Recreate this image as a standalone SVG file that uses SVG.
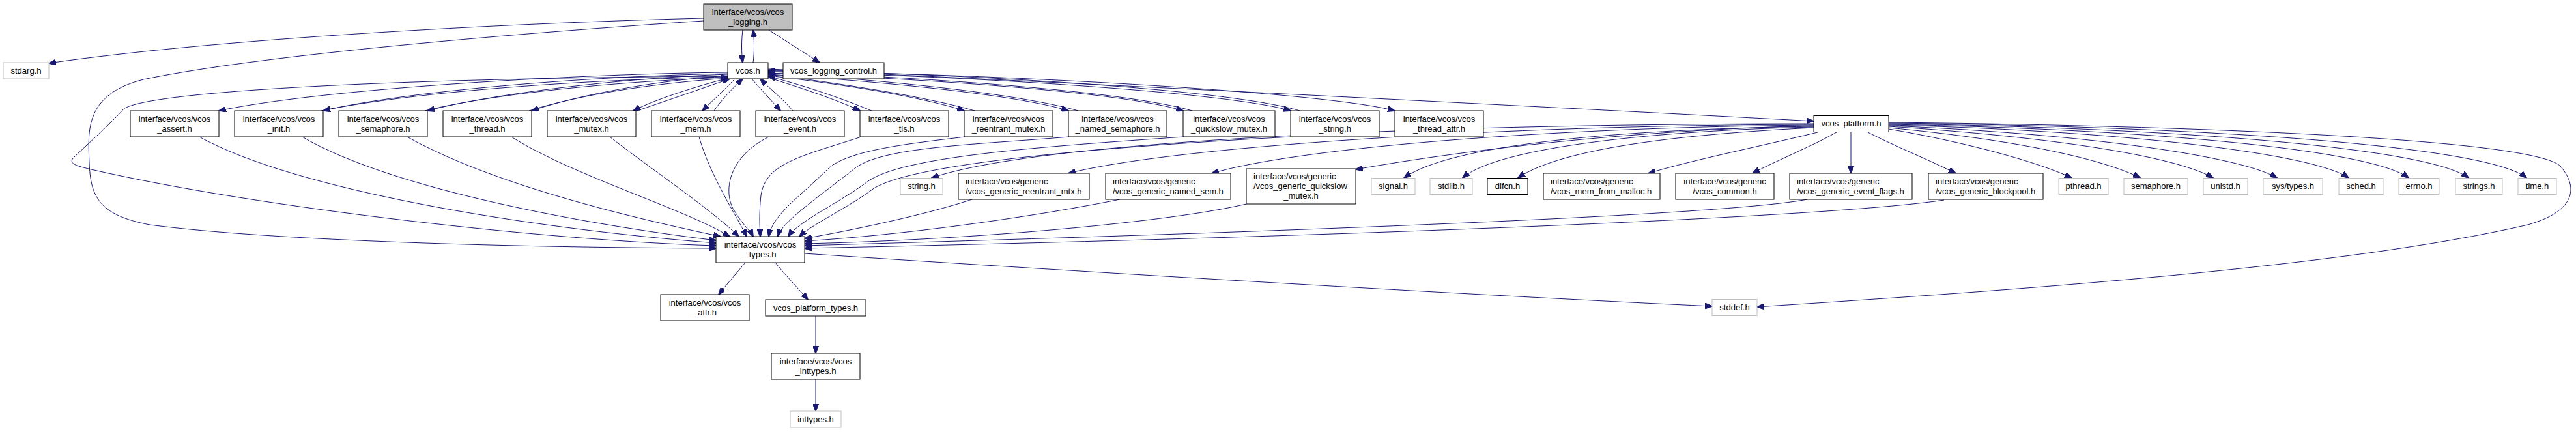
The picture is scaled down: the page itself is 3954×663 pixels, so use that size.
<svg xmlns="http://www.w3.org/2000/svg" width="3954" height="663" viewBox="0 0 3954 663">
<defs>
<marker id="a" markerWidth="12" markerHeight="9" refX="11" refY="4.5" orient="auto" markerUnits="userSpaceOnUse">
<path d="M0,0 L12,4.5 L0,9 z" fill="#191970" stroke="#191970" stroke-width="1"/>
</marker>
</defs>
<style>
rect{fill:#fff;stroke:#000;stroke-width:1}
.g rect{stroke:#bfbfbf}
.r rect{fill:#bfbfbf}
text{font-family:"Liberation Sans",Arial,sans-serif;font-size:13px;fill:#000}
.c{text-anchor:middle}
#edges path{fill:none;stroke:#191970;stroke-width:1;marker-end:url(#a)}
</style>
<rect x="0" y="0" width="3954" height="663" style="fill:#fff;stroke:none"/>
<g id="edges">
<path d="M1080,28 C760,36 330,60 75,97"/>
<path d="M1140,46 C1138,62 1138,80 1140,96"/>
<path d="M1156,96 C1158,80 1158,62 1156,46"/>
<path d="M1180,46 L1258,96"/>
<path d="M1080,32 C880,45 420,80 220,122 C130,145 135,200 137,250 C139,300 150,330 230,345 C420,370 800,380 1099,381"/>
<path d="M1117,117 C600,120 230,140 190,167 C170,190 130,225 112,243 C105,252 120,255 140,260 C400,320 850,370 1099,377"/>
<path d="M1117,111 C900,113 500,135 336,170"/>
<path d="M1117,113 C900,117 620,140 496,170"/>
<path d="M493,170 C640,140 900,122 1117,118"/>
<path d="M1117,114 C950,120 750,145 656,170"/>
<path d="M652,170 C760,143 960,124 1117,119"/>
<path d="M1117,116 C1000,124 880,148 816,170"/>
<path d="M812,170 C890,145 1010,127 1118,120"/>
<path d="M1117,120 C1060,135 1000,155 972,170"/>
<path d="M978,170 C1030,152 1080,135 1120,121"/>
<path d="M1128,121 C1110,140 1090,158 1078,170"/>
<path d="M1096,170 C1110,150 1125,135 1140,121"/>
<path d="M1154,121 C1170,140 1185,155 1198,170"/>
<path d="M1217,170 C1200,150 1180,135 1167,121"/>
<path d="M1179,119 C1230,135 1290,155 1320,170"/>
<path d="M1338,170 C1290,150 1230,130 1179,117"/>
<path d="M1179,116 C1300,130 1420,150 1480,170"/>
<path d="M1496,170 C1420,148 1290,128 1179,114"/>
<path d="M1179,114 C1350,125 1560,145 1640,170"/>
<path d="M1655,170 C1560,143 1350,122 1179,112"/>
<path d="M1179,112 C1400,120 1720,140 1816,170"/>
<path d="M1830,170 C1720,138 1400,118 1179,110"/>
<path d="M1179,110 C1450,115 1880,140 1981,170"/>
<path d="M1995,170 C1880,135 1450,112 1179,108"/>
<path d="M1179,109 C1500,112 2030,140 2141,170"/>
<path d="M1179,106 C1400,115 2400,165 2784,186"/>
<path d="M306,210 C450,290 800,350 1099,373"/>
<path d="M464,210 C600,290 900,345 1099,369"/>
<path d="M625,210 C750,280 950,330 1106,363"/>
<path d="M785,210 C880,270 1050,320 1120,363"/>
<path d="M936,210 C1000,260 1090,320 1134,363"/>
<path d="M1073,210 C1090,270 1130,330 1146,363"/>
<path d="M1180,210 C1120,240 1110,290 1125,320 C1140,345 1152,355 1156,363"/>
<path d="M1322,210 C1230,240 1175,250 1168,300 C1165,330 1166,345 1167,363"/>
<path d="M1481,210 C1400,220 1300,230 1270,260 C1230,300 1185,330 1180,363"/>
<path d="M1641,210 C1500,222 1350,225 1310,260 C1260,300 1200,340 1194,363"/>
<path d="M1817,210 C1600,225 1380,240 1330,280 C1290,310 1225,340 1210,363"/>
<path d="M1982,210 C1700,225 1400,250 1340,290 C1300,320 1245,345 1227,363"/>
<path d="M1492,306 C1420,330 1300,355 1235,366"/>
<path d="M1719,306 C1600,330 1400,360 1235,370"/>
<path d="M1913,313 C1800,340 1500,368 1235,374"/>
<path d="M2774,306 C2650,330 2000,355 1235,377"/>
<path d="M2984,307 C2800,335 2000,365 1235,381"/>
<path d="M1235,389 C1700,420 2300,455 2628,470"/>
<path d="M1144,403 C1130,420 1115,437 1103,452"/>
<path d="M1190,403 C1205,422 1225,442 1240,460"/>
<path d="M1252,485 L1252,542"/>
<path d="M1252,582 L1252,631"/>
<path d="M2899,198 C3000,215 3120,245 3180,273"/>
<path d="M2899,196 C3100,215 3230,245 3285,273"/>
<path d="M2899,194 C3150,210 3340,240 3397,273"/>
<path d="M2899,193 C3200,205 3440,240 3495,273"/>
<path d="M2899,192 C3250,200 3550,235 3605,273"/>
<path d="M2899,191 C3300,198 3640,230 3697,273"/>
<path d="M2899,190 C3350,196 3730,228 3789,273"/>
<path d="M2899,189 C3400,194 3820,225 3878,273"/>
<path d="M2899,188 C3400,193 3890,215 3930,255 C3960,290 3950,325 3880,345 C3600,410 3100,445 2697,471"/>
<path d="M2819,203 C2780,225 2730,245 2690,266"/>
<path d="M2841,203 L2841,266"/>
<path d="M2867,203 C2910,225 2960,245 3002,266"/>
<path d="M2790,203 C2700,225 2600,245 2530,266"/>
<path d="M2784,196 C2600,205 2400,225 2330,273"/>
<path d="M2784,195 C2550,200 2300,225 2245,273"/>
<path d="M2784,194 C2500,198 2230,220 2155,273"/>
<path d="M2784,193 C2500,200 2250,230 2081,260"/>
<path d="M2784,192 C2400,195 2000,225 1860,266"/>
<path d="M2784,191 C2300,192 1800,225 1640,266"/>
<path d="M2784,190 C2200,190 1600,215 1430,273"/>
</g>
<g id="n_root" class="r"><rect x="1080" y="6" width="136" height="40"/><text class="c" x="1148" y="22.5">interface/vcos/vcos</text><text class="c" x="1148" y="37.5">_logging.h</text></g>
<g id="n_stdarg" class="g"><rect x="5" y="96" width="70" height="25"/><text class="c" x="40" y="112.5">stdarg.h</text></g>
<g id="n_vcos"><rect x="1117" y="96" width="62" height="25"/><text class="c" x="1148" y="112.5">vcos.h</text></g>
<g id="n_logging_control"><rect x="1202" y="96" width="155" height="25"/><text class="c" x="1279.5" y="112.5">vcos_logging_control.h</text></g>
<g id="n_assert"><rect x="200" y="170" width="136" height="40"/><text class="c" x="268" y="186.5">interface/vcos/vcos</text><text class="c" x="268" y="201.5">_assert.h</text></g>
<g id="n_init"><rect x="360" y="170" width="136" height="40"/><text class="c" x="428" y="186.5">interface/vcos/vcos</text><text class="c" x="428" y="201.5">_init.h</text></g>
<g id="n_semaphore"><rect x="520" y="170" width="136" height="40"/><text class="c" x="588" y="186.5">interface/vcos/vcos</text><text class="c" x="588" y="201.5">_semaphore.h</text></g>
<g id="n_thread"><rect x="680" y="170" width="136" height="40"/><text class="c" x="748" y="186.5">interface/vcos/vcos</text><text class="c" x="748" y="201.5">_thread.h</text></g>
<g id="n_mutex"><rect x="840" y="170" width="136" height="40"/><text class="c" x="908" y="186.5">interface/vcos/vcos</text><text class="c" x="908" y="201.5">_mutex.h</text></g>
<g id="n_mem"><rect x="1000" y="170" width="136" height="40"/><text class="c" x="1068" y="186.5">interface/vcos/vcos</text><text class="c" x="1068" y="201.5">_mem.h</text></g>
<g id="n_event"><rect x="1160" y="170" width="136" height="40"/><text class="c" x="1228" y="186.5">interface/vcos/vcos</text><text class="c" x="1228" y="201.5">_event.h</text></g>
<g id="n_tls"><rect x="1320" y="170" width="136" height="40"/><text class="c" x="1388" y="186.5">interface/vcos/vcos</text><text class="c" x="1388" y="201.5">_tls.h</text></g>
<g id="n_reentrant_mutex"><rect x="1480" y="170" width="136" height="40"/><text class="c" x="1548" y="186.5">interface/vcos/vcos</text><text class="c" x="1548" y="201.5">_reentrant_mutex.h</text></g>
<g id="n_named_semaphore"><rect x="1640" y="170" width="151" height="40"/><text class="c" x="1715.5" y="186.5">interface/vcos/vcos</text><text class="c" x="1715.5" y="201.5">_named_semaphore.h</text></g>
<g id="n_quickslow_mutex"><rect x="1816" y="170" width="141" height="40"/><text class="c" x="1886.5" y="186.5">interface/vcos/vcos</text><text class="c" x="1886.5" y="201.5">_quickslow_mutex.h</text></g>
<g id="n_string"><rect x="1981" y="170" width="136" height="40"/><text class="c" x="2049" y="186.5">interface/vcos/vcos</text><text class="c" x="2049" y="201.5">_string.h</text></g>
<g id="n_thread_attr"><rect x="2141" y="170" width="136" height="40"/><text class="c" x="2209" y="186.5">interface/vcos/vcos</text><text class="c" x="2209" y="201.5">_thread_attr.h</text></g>
<g id="n_platform"><rect x="2784" y="177.5" width="115" height="25"/><text class="c" x="2841.5" y="194">vcos_platform.h</text></g>
<g id="n_string_h" class="g"><rect x="1382" y="273.5" width="65" height="25"/><text class="c" x="1414.5" y="290">string.h</text></g>
<g id="n_gen_reentrant"><rect x="1471" y="266" width="201" height="40"/><text x="1482" y="282.5">interface/vcos/generic</text><text x="1482" y="297.5">/vcos_generic_reentrant_mtx.h</text></g>
<g id="n_gen_named"><rect x="1697" y="266" width="192" height="40"/><text x="1708" y="282.5">interface/vcos/generic</text><text x="1708" y="297.5">/vcos_generic_named_sem.h</text></g>
<g id="n_gen_quickslow"><rect x="1913" y="259" width="168" height="54"/><text x="1924" y="275">interface/vcos/generic</text><text x="1924" y="290">/vcos_generic_quickslow</text><text class="c" x="1997" y="305">_mutex.h</text></g>
<g id="n_signal" class="g"><rect x="2105" y="273.5" width="67" height="25"/><text class="c" x="2138.5" y="290">signal.h</text></g>
<g id="n_stdlib" class="g"><rect x="2195" y="273.5" width="65" height="25"/><text class="c" x="2227.5" y="290">stdlib.h</text></g>
<g id="n_dlfcn"><rect x="2283" y="273.5" width="62" height="25"/><text class="c" x="2314" y="290">dlfcn.h</text></g>
<g id="n_mem_from_malloc"><rect x="2369" y="266" width="179" height="40"/><text x="2380" y="282.5">interface/vcos/generic</text><text x="2380" y="297.5">/vcos_mem_from_malloc.h</text></g>
<g id="n_common"><rect x="2572" y="266" width="151" height="40"/><text class="c" x="2647.5" y="282.5">interface/vcos/generic</text><text class="c" x="2647.5" y="297.5">/vcos_common.h</text></g>
<g id="n_event_flags"><rect x="2747" y="266" width="188" height="40"/><text x="2758" y="282.5">interface/vcos/generic</text><text x="2758" y="297.5">/vcos_generic_event_flags.h</text></g>
<g id="n_blockpool"><rect x="2960" y="266" width="176" height="40"/><text x="2971" y="282.5">interface/vcos/generic</text><text x="2971" y="297.5">/vcos_generic_blockpool.h</text></g>
<g id="n_pthread" class="g"><rect x="3160" y="273.5" width="76" height="25"/><text class="c" x="3198" y="290">pthread.h</text></g>
<g id="n_semaphore_h" class="g"><rect x="3260" y="273.5" width="98" height="25"/><text class="c" x="3309" y="290">semaphore.h</text></g>
<g id="n_unistd" class="g"><rect x="3382" y="273.5" width="68" height="25"/><text class="c" x="3416" y="290">unistd.h</text></g>
<g id="n_systypes" class="g"><rect x="3474" y="273.5" width="91" height="25"/><text class="c" x="3519.5" y="290">sys/types.h</text></g>
<g id="n_sched" class="g"><rect x="3590" y="273.5" width="68" height="25"/><text class="c" x="3624" y="290">sched.h</text></g>
<g id="n_errno" class="g"><rect x="3682" y="273.5" width="62" height="25"/><text class="c" x="3713" y="290">errno.h</text></g>
<g id="n_strings" class="g"><rect x="3769" y="273.5" width="72" height="25"/><text class="c" x="3805" y="290">strings.h</text></g>
<g id="n_time" class="g"><rect x="3865" y="273.5" width="59" height="25"/><text class="c" x="3894.5" y="290">time.h</text></g>
<g id="n_types"><rect x="1099" y="363" width="136" height="40"/><text class="c" x="1167" y="379.5">interface/vcos/vcos</text><text class="c" x="1167" y="394.5">_types.h</text></g>
<g id="n_attr"><rect x="1014" y="452" width="136" height="40"/><text class="c" x="1082" y="468.5">interface/vcos/vcos</text><text class="c" x="1082" y="483.5">_attr.h</text></g>
<g id="n_platform_types"><rect x="1175" y="460" width="154" height="25"/><text class="c" x="1252" y="476.5">vcos_platform_types.h</text></g>
<g id="n_stddef" class="g"><rect x="2628" y="459.5" width="69" height="25"/><text class="c" x="2662.5" y="476">stddef.h</text></g>
<g id="n_inttypes_vcos"><rect x="1184" y="542" width="136" height="40"/><text class="c" x="1252" y="558.5">interface/vcos/vcos</text><text class="c" x="1252" y="573.5">_inttypes.h</text></g>
<g id="n_inttypes" class="g"><rect x="1213" y="631" width="78" height="25"/><text class="c" x="1252" y="647.5">inttypes.h</text></g>
</svg>
